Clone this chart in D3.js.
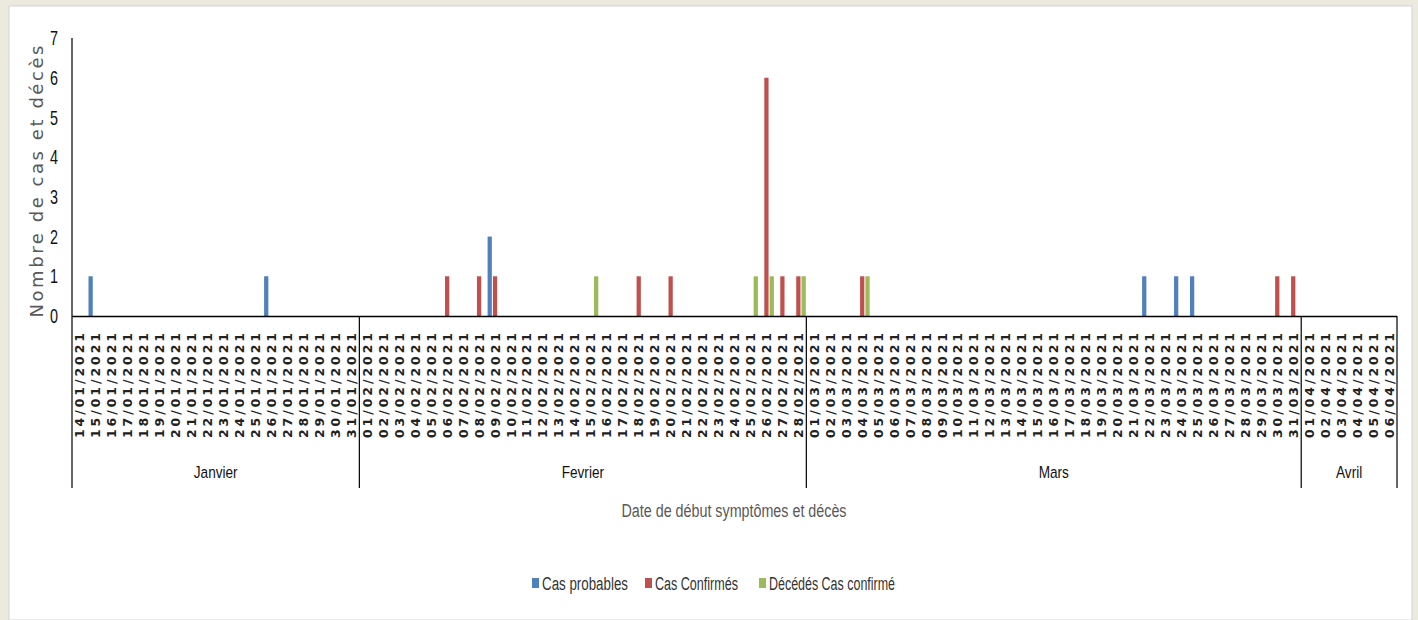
<!DOCTYPE html>
<html>
<head>
<meta charset="utf-8">
<script src="https://cdn.jsdelivr.net/npm/d3@7"></script>
<style>
  body { margin: 0; background: #ece9df; }
  svg { display: block; }
</style>
</head>
<body>
<div id="chart"></div>
<script>
// Data
const months = [
    { name: 'Janvier', mm: '01', first: 14, last: 31 },
    { name: 'Fevrier', mm: '02', first: 1, last: 28 },
    { name: 'Mars', mm: '03', first: 1, last: 31 },
    { name: 'Avril', mm: '04', first: 1, last: 6 }
];
const seriesNames = ['Cas probables', 'Cas Confirmés', 'Décédés Cas confirmé'];
const seriesColors = ['#4f81bd', '#c0504d', '#9bbb59'];

// non-zero values only, by date label
const casProbables = { '15/01/2021': 1, '26/01/2021': 1, '09/02/2021': 2, '22/03/2021': 1, '24/03/2021': 1, '25/03/2021': 1 };
const casConfirmes = { '06/02/2021': 1, '08/02/2021': 1, '09/02/2021': 1, '18/02/2021': 1, '20/02/2021': 1,
    '26/02/2021': 6, '27/02/2021': 1, '28/02/2021': 1, '04/03/2021': 1, '30/03/2021': 1, '31/03/2021': 1 };
const decedes = { '15/02/2021': 1, '25/02/2021': 1, '26/02/2021': 1, '28/02/2021': 1, '04/03/2021': 1 };
const yTicks = [0, 1, 2, 3, 4, 5, 6, 7];

// Build category list
const dates = [];
months.forEach(m => {
    for (let d = m.first; d <= m.last; d++) {
        dates.push(String(d).padStart(2, '0') + '/' + m.mm + '/2021');
    }
});
const seriesData = [casProbables, casConfirmes, decedes];

const W = 1418, H = 620;
const plot = { left: 72, right: 1397, top: 38, bottom: 316 };
const narrow = '"Liberation Sans Narrow", "Liberation Sans", sans-serif';

const svg = d3.select('#chart').append('svg')
    .attr('width', W)
    .attr('height', H);

// white panel
svg.append('rect')
    .attr('x', 9).attr('y', 6)
    .attr('width', 1403).attr('height', H - 6)
    .attr('fill', '#fff')
    .attr('stroke', '#d4d4d4');

const x0 = d3.scaleBand().domain(dates).range([plot.left, plot.right]).padding(0);
const x1 = d3.scaleBand().domain(seriesNames).range([0, x0.bandwidth()])
    .paddingInner(0.2).paddingOuter(0.1);
const y = d3.scaleLinear().domain([0, 7]).range([plot.bottom, plot.top]);

// bars
const bars = [];
dates.forEach(d => {
    seriesNames.forEach((s, i) => {
        const v = seriesData[i][d] || 0;
        if (v > 0) bars.push({ date: d, series: s, idx: i, value: v });
    });
});

svg.append('g').selectAll('rect')
    .data(bars)
    .join('rect')
    .attr('x', d => x0(d.date) + x1(d.series))
    .attr('y', d => y(d.value))
    .attr('width', x1.bandwidth())
    .attr('height', d => y(0) - y(d.value))
    .attr('fill', d => seriesColors[d.idx]);

// y axis
svg.append('line')
    .attr('x1', plot.left).attr('x2', plot.left)
    .attr('y1', plot.top).attr('y2', plot.bottom)
    .attr('stroke', '#000').attr('stroke-width', 1.2);

svg.append('g').selectAll('text')
    .data(yTicks)
    .join('text')
    .attr('transform', d => `translate(58,${y(d)}) scale(0.72,1)`)
    .attr('dy', '0.36em')
    .attr('text-anchor', 'end')
    .attr('font-family', narrow)
    .attr('font-size', 20)
    .attr('fill', '#111')
    .text(d => d);

svg.append('text')
    .attr('transform', `translate(43,${(45 + 318) / 2}) rotate(-90)`)
    .attr('text-anchor', 'middle')
    .attr('font-family', '"DejaVu Sans", sans-serif')
    .attr('font-size', 18)
    .attr('fill', '#595959')
    .attr('textLength', 272)
    .attr('lengthAdjust', 'spacing')
    .text('Nombre de cas et décès');

// x axis baseline
svg.append('line')
    .attr('x1', plot.left).attr('x2', plot.right)
    .attr('y1', plot.bottom + 0.5).attr('y2', plot.bottom + 0.5)
    .attr('stroke', '#000').attr('stroke-width', 1.6);

// date labels
svg.append('g').selectAll('text')
    .data(dates)
    .join('text')
    .attr('transform', d => `translate(${x0(d) + x0.bandwidth() / 2},333) rotate(-90)`)
    .attr('text-anchor', 'end')
    .attr('dy', '0.36em')
    .attr('font-family', '"DejaVu Sans", sans-serif')
    .attr('font-size', 12.5)
    .attr('font-weight', 'bold')
    .attr('fill', '#222')
    .attr('textLength', 105)
    .attr('lengthAdjust', 'spacing')
    .text(d => d);

// month group separators and labels
const bounds = [];
let idx = 0;
months.forEach(m => {
    const n = m.last - m.first + 1;
    bounds.push({ name: m.name, start: x0(dates[idx]), end: x0(dates[idx + n - 1]) + x0.bandwidth() });
    idx += n;
});
const sepX = [bounds[0].start].concat(bounds.map(b => b.end));

svg.append('g').selectAll('line')
    .data(sepX)
    .join('line')
    .attr('x1', d => d).attr('x2', d => d)
    .attr('y1', plot.bottom).attr('y2', 488)
    .attr('stroke', '#000').attr('stroke-width', 1.2);

svg.append('g').selectAll('text')
    .data(bounds)
    .join('text')
    .attr('transform', d => `translate(${(d.start + d.end) / 2},478) scale(0.8,1)`)
    .attr('text-anchor', 'middle')
    .attr('font-family', narrow)
    .attr('font-size', 17)
    .attr('fill', '#111')
    .text(d => d.name);

// x axis title
svg.append('text')
    .attr('x', 734)
    .attr('y', 517)
    .attr('text-anchor', 'middle')
    .attr('font-family', narrow)
    .attr('font-size', 18)
    .attr('fill', '#595959')
    .attr('textLength', 225)
    .attr('lengthAdjust', 'spacingAndGlyphs')
    .text('Date de début symptômes et décès');

// legend
const legendItems = [
    { x: 532, textLen: 86 },
    { x: 645, textLen: 83 },
    { x: 759, textLen: 126 }
];
const legend = svg.append('g').selectAll('g')
    .data(seriesNames)
    .join('g')
    .attr('transform', (d, i) => `translate(${legendItems[i].x},580)`);

legend.append('rect')
    .attr('x', 0).attr('y', -2)
    .attr('width', 7).attr('height', 10)
    .attr('fill', (d, i) => seriesColors[i]);

legend.append('text')
    .attr('x', 10)
    .attr('y', 10)
    .attr('font-family', narrow)
    .attr('font-size', 18)
    .attr('fill', '#333')
    .attr('textLength', (d, i) => legendItems[i].textLen)
    .attr('lengthAdjust', 'spacingAndGlyphs')
    .text(d => d);
</script>
</body>
</html>
